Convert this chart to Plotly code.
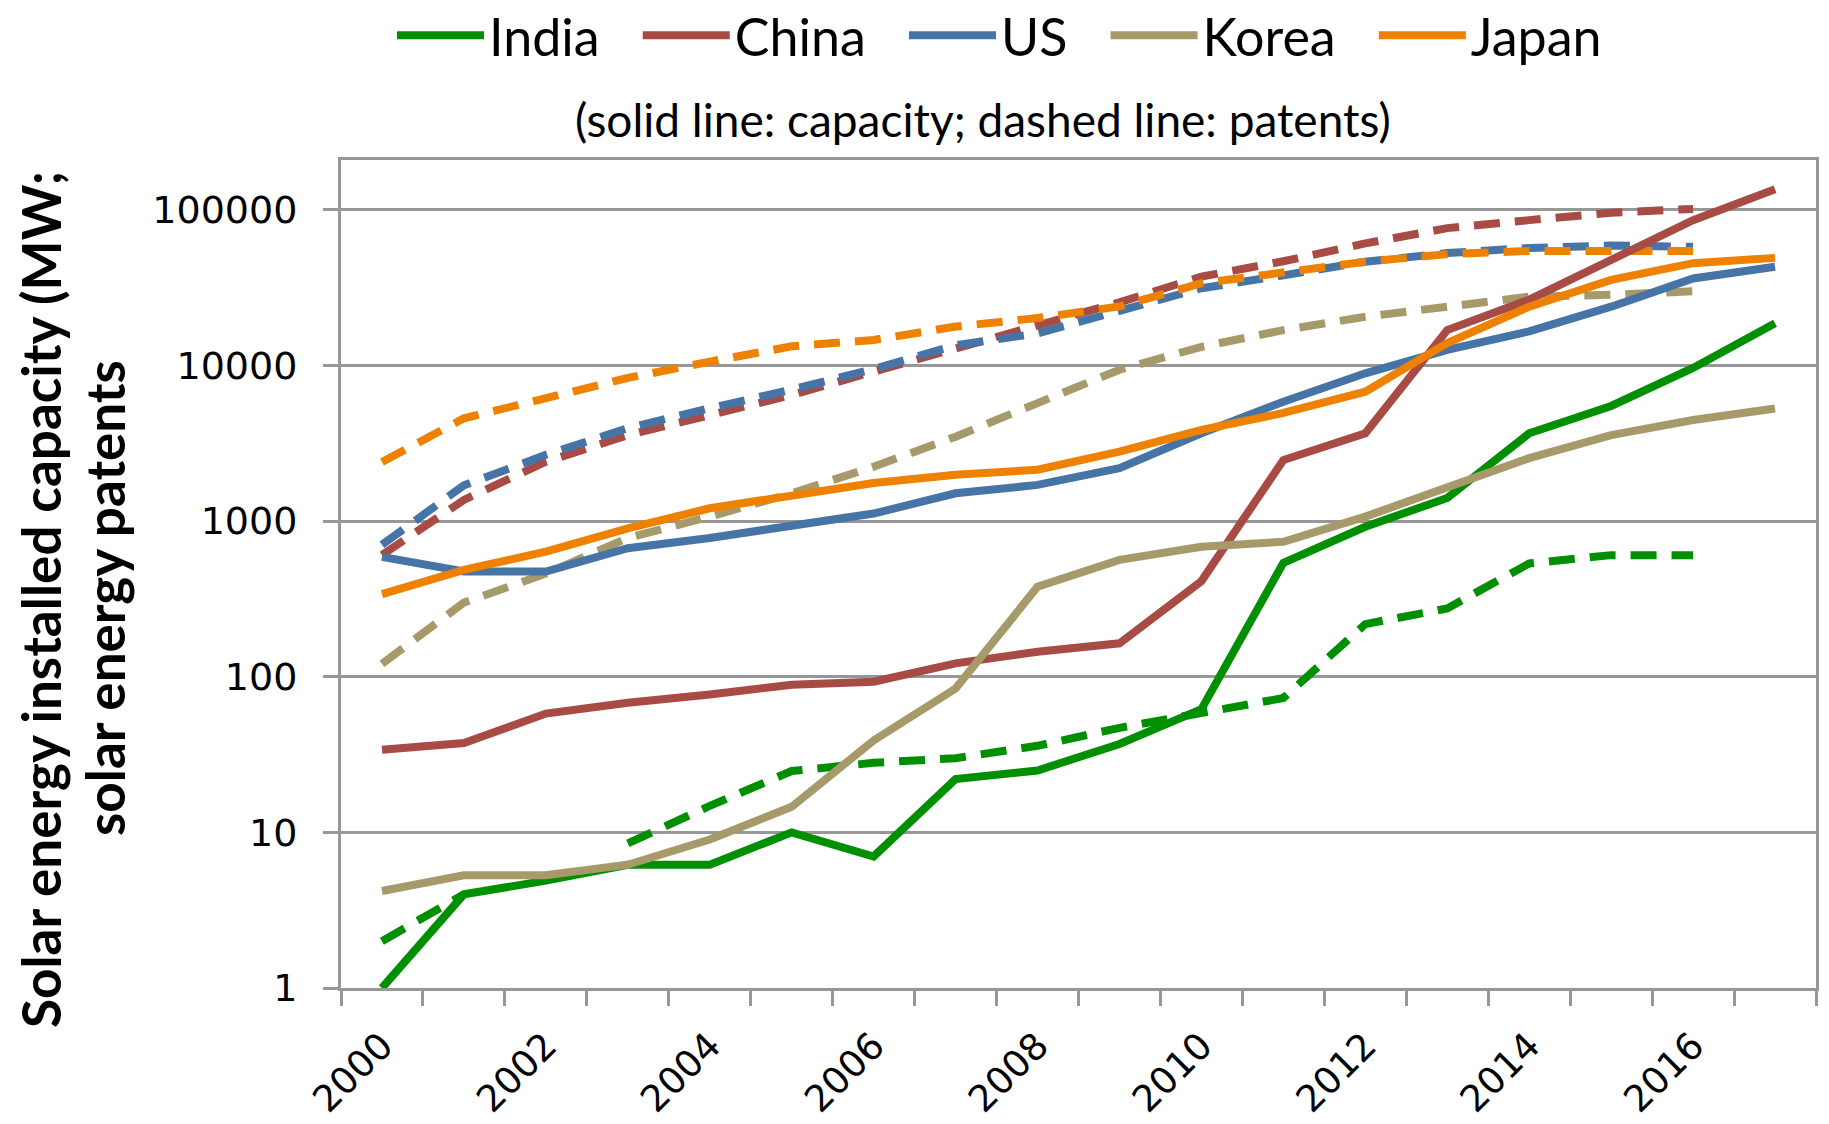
import plotly.graph_objects as go

years = list(range(2000, 2018))
tick_years = [2000, 2002, 2004, 2006, 2008, 2010, 2012, 2014, 2016]
y_tickvals = [1, 10, 100, 1000, 10000, 100000]
y_ticktext = ["1", "10", "100", "1000", "10000", "100000"]

countries = ["India", "China", "US", "Korea", "Japan"]
colors = {"India": "#008f00", "China": "#a84b45", "US": "#4674a6",
          "Korea": "#a6996a", "Japan": "#ef8100"}

# installed capacity (MW), 2000-2017
india_capacity = [1, 4, 4.9, 6.2, 6.2, 10, 7, 22, 25, 37, 62, 540, 920, 1410, 3670, 5500, 9650, 18700]
china_capacity = [34, 37.5, 58, 68, 77, 89, 93, 122, 145, 164, 412, 2470, 3670, 16900, 26500, 47600, 86000, 136000]
us_capacity = [590, 475, 475, 670, 780, 946, 1120, 1510, 1710, 2190, 3670, 5860, 8920, 12600, 16600, 23900, 36300, 43200]
korea_capacity = [4.2, 5.3, 5.3, 6.2, 9.0, 14.6, 39, 84, 379, 564, 685, 738, 1070, 1625, 2540, 3570, 4470, 5300]
japan_capacity = [340, 486, 637, 900, 1210, 1470, 1760, 1990, 2140, 2800, 3860, 4960, 6790, 13970, 23900, 35500, 45500, 49200]

# solar energy patents, 2000-2016 (2017 missing)
india_patents = [2, 4, None, 8.5, 14.8, 24.8, 28, 30, 36, 47, 58, 73, 218, 275, 535, 605, 605, None]
china_patents = [606, 1370, 2410, 3570, 4800, 6470, 9140, 12900, 17800, 25500, 37300, 46800, 61000, 76400, 86000, 96000, 101600, None]
us_patents = [706, 1700, 2670, 3960, 5320, 7000, 9500, 13500, 16100, 22500, 31400, 38000, 46500, 52800, 57000, 59000, 58000, None]
korea_patents = [121, 300, 460, 780, 1070, 1510, 2240, 3490, 5740, 9400, 13200, 16900, 20600, 23900, 27700, 28500, 30000, None]
japan_patents = [2400, 4580, 6170, 8330, 10600, 13300, 14600, 17800, 20200, 24000, 33800, 39300, 46500, 52000, 54500, 54500, 54500, None]

capacity = {"India": india_capacity, "China": china_capacity, "US": us_capacity,
            "Korea": korea_capacity, "Japan": japan_capacity}
patents = {"India": india_patents, "China": china_patents, "US": us_patents,
           "Korea": korea_patents, "Japan": japan_patents}

subtitle = "(solid line: capacity; dashed line: patents)"
ytitle1 = "Solar energy installed capacity (MW;"
ytitle2 = "solar energy patents"

GRID = "#979797"
LW = 8
PAD = "\u00a0\u00a0\u2009"

fig = go.Figure()
for c in countries:
    fig.add_trace(go.Scatter(x=years, y=patents[c], mode="lines", name=c,
                             showlegend=False, connectgaps=False,
                             line=dict(color=colors[c], width=LW, dash="26px,15px")))
for c in countries:
    fig.add_trace(go.Scatter(x=years, y=capacity[c], mode="lines", name=c + PAD,
                             line=dict(color=colors[c], width=LW)))

W, H = 1829, 1124
L, R, T, B = 341, 13, 160, 136
pw, ph = W - L - R, H - T - B

def px_x(x):
    return (x - L) / pw

def px_y(y):
    return (H - B - y) / ph

fig.update_layout(
    width=W, height=H,
    margin=dict(l=L, r=R, t=T, b=B, autoexpand=False),
    paper_bgcolor="white", plot_bgcolor="white",
    font=dict(family="Lato", color="black"),
    showlegend=True,
    legend=dict(orientation="h", xref="container", yref="paper",
                x=392 / W, xanchor="left", y=px_y(-5), yanchor="top",
                font=dict(family="Lato", size=52, color="black"),
                itemwidth=87, bgcolor="rgba(0,0,0,0)"),
    xaxis=dict(range=[1999.5, 2017.5], tickmode="array", tickvals=tick_years,
               ticktext=[str(v) for v in tick_years], tickangle=-45,
               ticks="", showgrid=False, zeroline=False,
               showline=True, linecolor=GRID, linewidth=3, mirror=True,
               tickfont=dict(family="DejaVu Sans", size=37, color="black"),
               ticklabelstandoff=18,
               minor=dict(tickmode="array", tickvals=[1999.5 + i for i in range(19)],
                          ticks="outside", ticklen=15, tickwidth=3, tickcolor=GRID,
                          showgrid=False)),
    yaxis=dict(type="log", range=[0, 5.321], tickmode="array",
               tickvals=y_tickvals, ticktext=y_ticktext,
               ticks="outside", ticklen=15, tickwidth=3, tickcolor=GRID,
               showgrid=True, gridcolor=GRID, gridwidth=3, zeroline=False,
               showline=True, linecolor=GRID, linewidth=3, mirror=True,
               tickfont=dict(family="DejaVu Sans", size=38, color="black"),
               ticklabelstandoff=18),
    annotations=[
        dict(text=subtitle, xref="paper", yref="paper", x=px_x(983), y=px_y(119),
             xanchor="center", yanchor="middle", showarrow=False,
             font=dict(family="Lato", size=46, color="black")),
        dict(text="<b>" + ytitle1 + "</b>", xref="paper", yref="paper",
             x=px_x(40), y=px_y(600), xanchor="center", yanchor="middle",
             textangle=-90, showarrow=False,
             font=dict(family="Lato", size=53, color="black")),
        dict(text="<b>" + ytitle2 + "</b>", xref="paper", yref="paper",
             x=px_x(104), y=px_y(598), xanchor="center", yanchor="middle",
             textangle=-90, showarrow=False,
             font=dict(family="Lato", size=53, color="black")),
    ],
)

fig.write_html("out.html")
